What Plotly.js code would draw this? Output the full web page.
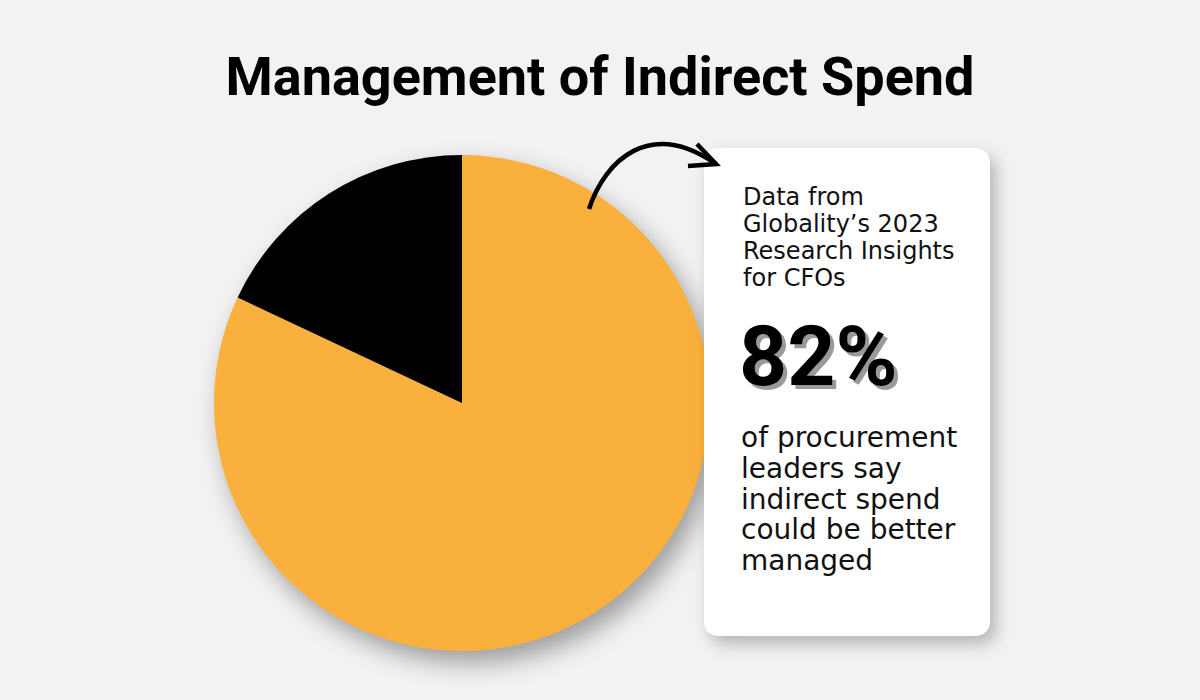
<!DOCTYPE html>
<html>
<head>
<meta charset="utf-8">
<script src="https://cdn.plot.ly/plotly-3.0.1.min.js"></script>
<style>
  html, body { margin: 0; padding: 0; background: #f2f2f2; }
  #chart { width: 1200px; height: 700px; }
  .pielayer { filter: drop-shadow(8px 12px 12px rgba(0,0,0,0.35)); }
  .shapelayer path[data-index="0"] { filter: drop-shadow(6px 8px 8px rgba(0,0,0,0.25)); }
  .annotation[data-index="4"] text { filter: drop-shadow(4px 4px 0px #9a9a9a); }
</style>
</head>
<body>
<div id="chart"></div>
<script>
// data
const sliceLabels = ["Could be better managed", "Well managed"];
const sliceValues = [82, 18];
const sliceColors = ["#FAB03C", "#000000"];

const chartTitle = "Management of Indirect Spend";
const sourceLines = ["Data from", "Globality’s 2023", "Research Insights", "for CFOs"];
const statText = "82%";
const statLines = ["of procurement", "leaders say", "indirect spend", "could be better", "managed"];

// pixel -> paper helpers (margins are 0)
const W = 1200, H = 700;
const px = x => x / W;
const py = y => 1 - y / H;
const pt = (x, y) => px(x) + "," + py(y);

// card as a rounded rect
function roundRect(x0, y0, x1, y1, r) {
  return "M" + pt(x0 + r, y0) + " L" + pt(x1 - r, y0) + " Q" + pt(x1, y0) + " " + pt(x1, y0 + r) +
    " L" + pt(x1, y1 - r) + " Q" + pt(x1, y1) + " " + pt(x1 - r, y1) +
    " L" + pt(x0 + r, y1) + " Q" + pt(x0, y1) + " " + pt(x0, y1 - r) +
    " L" + pt(x0, y0 + r) + " Q" + pt(x0, y0) + " " + pt(x0 + r, y0) + " Z";
}

const arrowCurve = "M" + pt(589, 209) + " C" + pt(605, 160) + " " + pt(650, 118) + " " + pt(716, 164);
const arrowHead = "M" + pt(697, 144) + " L" + pt(716, 164) + " L" + pt(688, 166);

const pieTrace = {
  type: "pie",
  labels: sliceLabels,
  values: sliceValues,
  marker: { colors: sliceColors, line: { width: 0 } },
  sort: false,
  direction: "clockwise",
  rotation: 0,
  textinfo: "none",
  textposition: "none",
  hoverinfo: "label+percent",
  domain: { x: [px(214), px(710)], y: [py(651), py(155)] }
};

const annotations = [];

sourceLines.forEach((t, i) => {
  annotations.push({
    text: t, xref: "paper", yref: "paper", x: px(741), y: py(197 + i * 27),
    xanchor: "left", yanchor: "middle", showarrow: false,
    font: { family: "'DejaVu Sans', sans-serif", size: 24, color: "#111111" }
  });
});

// big number, grey offset shadow comes from css (index 4)
annotations.push({
  text: "<b>" + statText + "</b>", xref: "paper", yref: "paper", x: px(737), y: py(356),
  xanchor: "left", yanchor: "middle", showarrow: false,
  font: { family: "Roboto, sans-serif", size: 84, color: "#000000" }
});

statLines.forEach((t, i) => {
  annotations.push({
    text: t, xref: "paper", yref: "paper", x: px(739), y: py(438 + i * 30.5),
    xanchor: "left", yanchor: "middle", showarrow: false,
    font: { family: "'DejaVu Sans', sans-serif", size: 28, color: "#111111" }
  });
});

const layout = {
  width: W, height: H,
  margin: { l: 0, r: 0, t: 0, b: 0 },
  paper_bgcolor: "#f2f2f2",
  plot_bgcolor: "#f2f2f2",
  showlegend: false,
  title: {
    text: "<b>" + chartTitle + "</b>",
    x: 0.5, xanchor: "center",
    y: py(76), yanchor: "middle",
    font: { family: "Roboto, sans-serif", size: 54, color: "#000000" }
  },
  shapes: [
    {
      type: "path", xref: "paper", yref: "paper", layer: "above",
      path: roundRect(704, 148, 990, 636, 16),
      fillcolor: "#ffffff", line: { width: 0 }
    },
    {
      type: "path", xref: "paper", yref: "paper", layer: "above",
      path: arrowCurve, line: { color: "#000000", width: 4.5 }
    },
    {
      type: "path", xref: "paper", yref: "paper", layer: "above",
      path: arrowHead, line: { color: "#000000", width: 4.5 }
    }
  ],
  annotations: annotations
};

Plotly.newPlot("chart", [pieTrace], layout, { displayModeBar: false });
</script>
</body>
</html>
